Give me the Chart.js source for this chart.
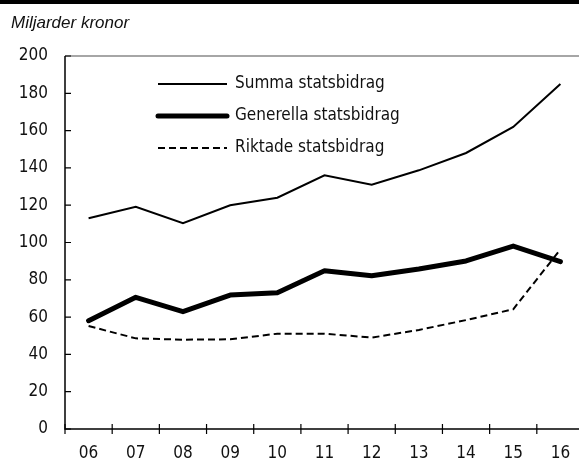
<!DOCTYPE html>
<html lang="sv">
<head>
<meta charset="utf-8">
<script src="https://cdn.jsdelivr.net/npm/chart.js@4.4.1/dist/chart.umd.min.js"></script>
<style>
  html, body { margin: 0; padding: 0; background: #fff; overflow: hidden; }
  .wrap { position: relative; width: 579px; height: 458px; overflow: hidden; }
  .topbar { position: absolute; left: 0; top: 0; width: 579px; height: 4px; background: #000; }
  .unit { position: absolute; left: 11px; top: 13px; font: italic 17px "Liberation Sans", Arial, sans-serif; color: #111; }
  canvas { position: absolute; left: 0; top: 0; }
</style>
</head>
<body>
<div class="wrap">
  <canvas id="statsbidrag" width="600" height="458"></canvas>
  <div class="topbar"></div>
  <div class="unit">Miljarder kronor</div>
</div>
<script>
const years = ['06', '07', '08', '09', '10', '11', '12', '13', '14', '15', '16'];
const summa = [113, 119.2, 110.3, 120, 124, 136, 131, 138.7, 148, 162, 185];
const generella = [58.1, 70.6, 62.9, 71.8, 73.1, 84.9, 82.2, 85.8, 90.1, 98.1, 89.7];
const riktade = [55.2, 48.6, 47.9, 48.1, 51.1, 51.1, 49, 53.1, 58.4, 64.2, 96.3];
const yTicks = [0, 20, 40, 60, 80, 100, 120, 140, 160, 180, 200];

const narrow = '"Liberation Sans Narrow", "DejaVu Sans Condensed", "Arial Narrow", sans-serif';
Chart.defaults.font.family = narrow;
Chart.defaults.font.size = 17;
Chart.defaults.color = '#111';

// axes: left line with inward ticks, bottom line with crossing ticks, grey frame on top
const axisLines = {
  id: 'axisLines',
  beforeDatasetsDraw(chart) {
    const { ctx, chartArea, scales } = chart;
    const x = scales.x, y = scales.y;
    const y0 = y.getPixelForValue(0);
    const yTop = y.getPixelForValue(200);
    ctx.save();
    ctx.strokeStyle = '#888';
    ctx.lineWidth = 1.5;
    ctx.beginPath();
    ctx.moveTo(chartArea.left, yTop);
    ctx.lineTo(chartArea.right, yTop);
    ctx.stroke();

    ctx.strokeStyle = '#000';
    ctx.beginPath();
    ctx.moveTo(chartArea.left, yTop);
    ctx.lineTo(chartArea.left, y0);
    ctx.lineTo(chartArea.right, y0);
    ctx.stroke();

    ctx.lineWidth = 1.2;
    ctx.beginPath();
    yTicks.forEach(v => {
      const py = y.getPixelForValue(v);
      ctx.moveTo(chartArea.left, py);
      ctx.lineTo(chartArea.left + 6, py);
    });
    const half = (x.getPixelForValue(1) - x.getPixelForValue(0)) / 2;
    years.forEach((_, i) => {
      const px = x.getPixelForValue(i) - half;
      ctx.moveTo(px, y0 - 5);
      ctx.lineTo(px, y0 + 5);
    });
    ctx.stroke();
    ctx.restore();
  }
};

// legend inside the plot, drawn from the dataset styles
const lineLegend = {
  id: 'lineLegend',
  afterDatasetsDraw(chart) {
    const { ctx, chartArea } = chart;
    const x1 = chartArea.left + 93, x2 = chartArea.left + 162;
    ctx.save();
    ctx.font = '17px ' + narrow;
    ctx.fillStyle = '#111';
    ctx.textBaseline = 'middle';
    chart.data.datasets.forEach((ds, i) => {
      const py = chartArea.top + 28 + i * 32;
      ctx.strokeStyle = ds.borderColor;
      ctx.lineWidth = ds.borderWidth;
      ctx.lineCap = ds.borderCapStyle || 'butt';
      ctx.setLineDash(ds.borderDash || []);
      ctx.beginPath();
      ctx.moveTo(x1, py);
      ctx.lineTo(x2, py);
      ctx.stroke();
      ctx.fillText(ds.label, x2 + 8, py);
    });
    ctx.restore();
  }
};

new Chart(document.getElementById('statsbidrag'), {
  type: 'line',
  data: {
    labels: years,
    datasets: [
      { label: 'Summa statsbidrag', data: summa, borderColor: '#000', borderWidth: 2 },
      { label: 'Generella statsbidrag', data: generella, borderColor: '#000', borderWidth: 5, borderCapStyle: 'round', borderJoinStyle: 'round' },
      { label: 'Riktade statsbidrag', data: riktade, borderColor: '#000', borderWidth: 2, borderDash: [7, 4] }
    ]
  },
  options: {
    responsive: false,
    animation: false,
    layout: { padding: { top: 56, right: 16, left: 0, bottom: 0 } },
    elements: { point: { radius: 0 }, line: { tension: 0 } },
    plugins: { legend: { display: false }, tooltip: { enabled: false } },
    scales: {
      x: {
        offset: true,
        grid: { display: false, drawTicks: false },
        border: { display: false },
        ticks: { padding: 14, maxRotation: 0 },
        afterFit(scale) { scale.height = 29; }
      },
      y: {
        min: 0,
        max: 200,
        grid: { display: false, drawTicks: false },
        border: { display: false },
        ticks: { stepSize: 20, padding: 17 },
        afterFit(scale) { scale.width = 65; }
      }
    }
  },
  plugins: [axisLines, lineLegend]
});
</script>
</body>
</html>
